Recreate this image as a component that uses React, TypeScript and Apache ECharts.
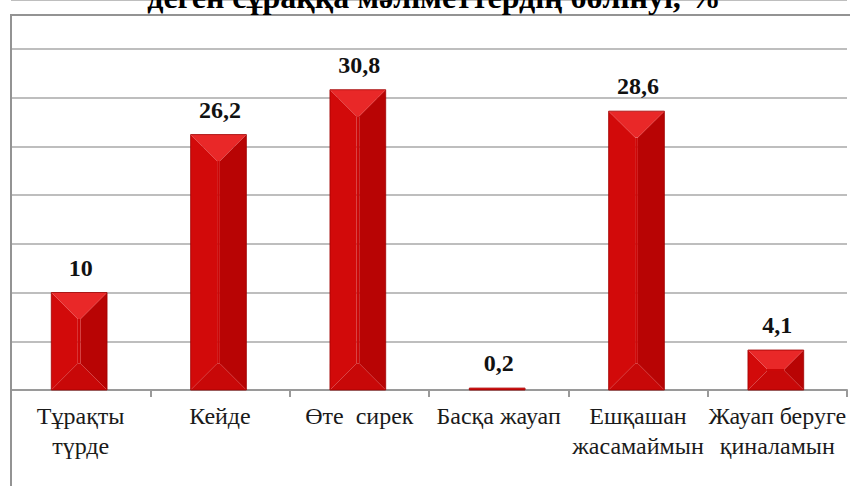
import React, { useEffect, useRef } from "react";
import * as echarts from "echarts";

const categories = [
  "Тұрақты\nтүрде",
  "Кейде",
  "Өте  сирек",
  "Басқа жауап",
  "Ешқашан\nжасамаймын",
  "Жауап беруге\nқиналамын",
];
const values = [10, 26.2, 30.8, 0.2, 28.6, 4.1];
const titleText = "деген сұраққа мәліметтердің бөлінуі, %";

const SERIF = "Liberation Serif";

export default function App() {
  const ref = useRef<HTMLDivElement>(null);
  useEffect(() => {
    if (!ref.current) return;
    const chart = echarts.init(ref.current, null, { renderer: "svg" });

    const renderItem = (params: any, api: any) => {
      const i = api.value(0);
      const v = api.value(1);
      const top = api.coord([i, v]);
      const base = api.coord([i, 0]);
      const bw = api.size([1, 0])[0] * 0.4;
      const cx = top[0] - 1.5;
      const x0 = cx - bw / 2;
      const x1 = cx + bw / 2;
      const y0 = top[1];
      const y1 = base[1];
      const h = y1 - y0;
      const d = Math.max(0, Math.min(bw / 2, h / 2) * 0.95);
      const label = String(v).replace(".", ",");
      return {
        type: "group",
        children: [
          {
            type: "polygon",
            shape: { points: [[x0, y0], [x0 + d, y0 + d], [x0 + d, y1 - d], [x0, y1]] },
            style: { fill: "#d20a0a" },
          },
          {
            type: "polygon",
            shape: { points: [[x1, y0], [x1, y1], [x1 - d, y1 - d], [x1 - d, y0 + d]] },
            style: { fill: "#b80404" },
          },
          {
            type: "rect",
            shape: { x: x0 + d, y: y0 + d, width: Math.max(0, bw - 2 * d), height: Math.max(0, h - 2 * d) },
            style: { fill: "#cc0707" },
          },
          {
            type: "polygon",
            shape: { points: [[x0, y0], [x1, y0], [x1 - d, y0 + d], [x0 + d, y0 + d]] },
            style: { fill: "#e92828" },
          },
          {
            type: "polygon",
            shape: { points: [[x0, y1], [x0 + d, y1 - d], [x1 - d, y1 - d], [x1, y1]] },
            style: { fill: "#c80808" },
          },
          {
            type: "rect",
            shape: { x: x0, y: y0, width: bw, height: h },
            style: { fill: "none", stroke: "#a00000", lineWidth: 0.8 },
          },
          {
            type: "text",
            style: {
              text: label,
              x: cx + 1.5,
              y: y0 - 13,
              align: "center",
              verticalAlign: "bottom",
              fontFamily: SERIF,
              fontWeight: "bold",
              fontSize: 24,
              fill: "#111111",
            },
          },
        ],
      };
    };

    chart.setOption({
      animation: false,
      backgroundColor: "#ffffff",
      grid: { left: 11, right: 3, top: -2, bottom: 96, containLabel: false },
      xAxis: {
        type: "category",
        data: categories,
        boundaryGap: true,
        axisLine: { show: true, lineStyle: { color: "#9a9a9a", width: 2 } },
        axisTick: { show: true, length: 7, lineStyle: { color: "#9a9a9a", width: 2 } },
        axisLabel: {
          interval: 0,
          margin: 11,
          fontFamily: SERIF,
          fontSize: 24,
          lineHeight: 30,
          color: "#1a1a1a",
        },
      },
      yAxis: {
        type: "value",
        min: 0,
        max: 40,
        interval: 5,
        axisLine: { show: false },
        axisTick: { show: false },
        axisLabel: { show: false },
        splitLine: { show: true, lineStyle: { color: "#a8a8a8", width: 1.6 } },
      },
      graphic: [
        {
          type: "rect",
          shape: { x: 11, y: 15, width: 850, height: 520 },
          style: { fill: "none", stroke: "#939393", lineWidth: 2 },
          z: 10,
        },
        {
          type: "text",
          style: {
            text: titleText,
            x: 434,
            y: 13,
            align: "center",
            verticalAlign: "bottom",
            fontFamily: SERIF,
            fontWeight: "bold",
            fontSize: 32,
            fill: "#000000",
          },
          z: 10,
        },
      ],
      series: [
        {
          type: "custom",
          renderItem,
          data: values.map((v, i) => [i, v]),
          encode: { x: 0, y: 1 },
          clip: false,
        },
      ],
    });
    return () => chart.dispose();
  }, []);
  return (
    <div
      ref={ref}
      style={{ position: "fixed", left: 0, top: 0, width: 850, height: 486 }}
    />
  );
}
